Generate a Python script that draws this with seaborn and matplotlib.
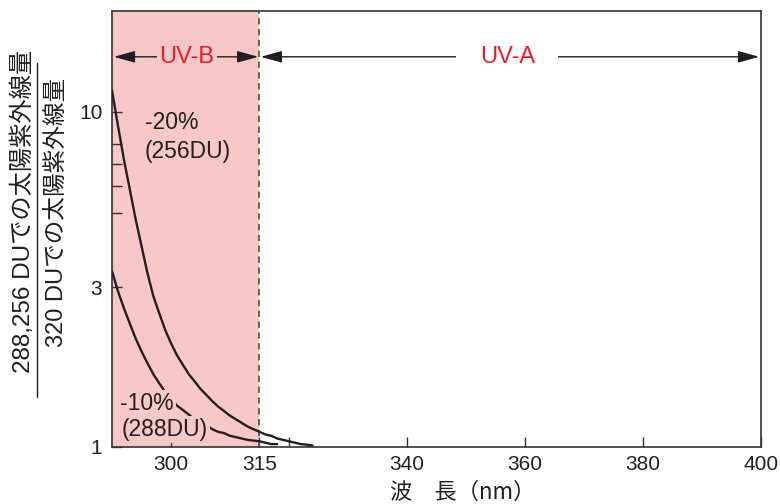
import numpy as np
import pandas as pd
import matplotlib
matplotlib.use("Agg")
import matplotlib.pyplot as plt
from matplotlib.ticker import FixedLocator, NullFormatter
from matplotlib.lines import Line2D
import seaborn as sns

# Ratio of solar UV at reduced ozone to UV at 320 DU
wavelength_256 = [290, 291, 292, 293, 294, 295, 296, 297, 298, 299, 300, 301, 302,
                  303, 304, 305, 306, 307, 308, 309, 310, 311, 312, 313, 314, 315,
                  316, 317, 318, 319, 320, 321, 322, 323, 324]
ratio_256 = [11.6, 9.12, 7.24, 5.89, 4.79, 3.98, 3.31, 2.82, 2.51, 2.24, 2.04, 1.88,
             1.76, 1.65, 1.57, 1.49, 1.43, 1.37, 1.32, 1.28, 1.24, 1.21, 1.18, 1.15,
             1.13, 1.11, 1.09, 1.08, 1.06, 1.05, 1.04, 1.03, 1.02, 1.016, 1.01]

wavelength_288 = [290, 291, 292, 293, 294, 295, 296, 297, 298, 299, 300, 301, 302,
                  303, 304, 305, 306, 307, 308, 309, 310, 311, 312, 313, 314, 315,
                  316, 317, 318]
ratio_288 = [3.35, 2.92, 2.60, 2.34, 2.11, 1.93, 1.78, 1.65, 1.55, 1.46, 1.39, 1.33,
             1.29, 1.25, 1.21, 1.18, 1.16, 1.13, 1.11, 1.10, 1.08, 1.07, 1.06, 1.05,
             1.045, 1.04, 1.03, 1.02, 1.02]

series_names = ["256DU", "288DU"]
x_ticks = [300, 315, 340, 360, 380, 400]
x_minor_ticks = [320]
y_ticks = [1, 3, 10]
y_minor_ticks = [5, 6, 7, 8]
uvb_range = (290, 315)
uva_range = (315, 400)

df = pd.concat([
    pd.DataFrame({"wl": wavelength_256, "ratio": ratio_256, "series": series_names[0]}),
    pd.DataFrame({"wl": wavelength_288, "ratio": ratio_288, "series": series_names[1]}),
], ignore_index=True)

sns.set_theme(style="ticks")
plt.rcParams["font.family"] = ["Liberation Sans", "Noto Sans CJK JP"]

INK = "#231f20"
PINK = "#f8c8c8"
RED = "#ed1c24"

fig = plt.figure(figsize=(7.8, 5.04), dpi=100)
ax = fig.add_axes([112 / 780, 1 - 447 / 504, (761 - 112) / 780, (447 - 11) / 504])

ax.axvspan(*uvb_range, color=PINK, lw=0, zorder=0)
ax.axvline(uvb_range[1], color="#5a5a5a", lw=1.3, ls=(0, (3.5, 2.5)), zorder=1)

sns.lineplot(data=df, x="wl", y="ratio", hue="series", units="series",
             estimator=None, sort=False, palette=[INK, INK], lw=1.7,
             legend=False, ax=ax, zorder=3)

ax.set_yscale("log")
ax.set_xlim(290, 400)
ax.set_ylim(1, 20)

ax.set_xticks(x_ticks)
ax.set_xticklabels([str(t) for t in x_ticks])
ax.xaxis.set_minor_locator(FixedLocator(x_minor_ticks))
ax.set_yticks(y_ticks)
ax.set_yticklabels([str(t) for t in y_ticks])
ax.yaxis.set_minor_locator(FixedLocator(y_minor_ticks))
ax.yaxis.set_minor_formatter(NullFormatter())
ax.xaxis.set_minor_formatter(NullFormatter())
ax.tick_params(which="both", direction="in", length=7, width=1, color="#333333",
               labelsize=15, labelcolor=INK)
ax.tick_params(axis="x", which="both", pad=6)
ax.tick_params(axis="y", which="both", pad=7)

for s in ax.spines.values():
    s.set_visible(True)
    s.set_color("#333333")
    s.set_linewidth(1.2)

ax.set_xlabel("")
ax.set_ylabel("")

# Band arrows across the top
arrow_y = 14.6
arrow_kw = dict(arrowstyle="<|-|>,head_length=0.65,head_width=0.18", color=INK,
                lw=1.0, mutation_scale=20, shrinkA=0, shrinkB=0)
ax.annotate("", xy=(uvb_range[0] + 0.3, arrow_y), xytext=(uvb_range[1] - 0.2, arrow_y),
            arrowprops=arrow_kw, zorder=4)
ax.annotate("", xy=(uva_range[0] + 0.2, arrow_y), xytext=(uva_range[1] - 0.3, arrow_y),
            arrowprops=arrow_kw, zorder=4)
ax.text(302.7, arrow_y, "UV-B", color=RED, fontsize=17, ha="center", va="center",
        zorder=5, bbox=dict(facecolor=PINK, edgecolor="none", pad=2))
ax.text(357.0, arrow_y, "UV-A", color=RED, fontsize=17, ha="center", va="center",
        zorder=5, bbox=dict(facecolor="white", edgecolor="none", pad=17))

# Curve labels
ax.text(295.6, 9.3, "-20%", fontsize=16.5, color=INK, ha="left", va="center", zorder=5)
ax.text(295.6, 7.6, "(256DU)", fontsize=16.5, color=INK, ha="left", va="center", zorder=5)
ax.text(291.4, 1.345, "-10%", fontsize=16.5, color=INK, ha="left", va="center", zorder=5,
        bbox=dict(facecolor=PINK, edgecolor="none", pad=1.5))
ax.text(291.6, 1.125, "(288DU)", fontsize=16.5, color=INK, ha="left", va="center", zorder=5,
        bbox=dict(facecolor=PINK, edgecolor="none", pad=1.5))

# Axis titles
fig.text(463 / 780, 1 - 492 / 504, "波\u3000長（nm）", fontsize=16, color=INK,
         ha="center", va="center", family=["Noto Sans CJK JP"])
fig.text(23 / 780, 1 - 211 / 504, "288,256 DUでの太陽紫外線量", rotation=90,
         fontsize=17.5, color=INK, ha="center", va="center")
fig.text(57 / 780, 1 - 212 / 504, "320 DUでの太陽紫外線量", rotation=90,
         fontsize=17, color=INK, ha="center", va="center")
fig.add_artist(Line2D([37 / 780, 37 / 780], [1 - 397 / 504, 1 - 63 / 504],
                      transform=fig.transFigure, color=INK, lw=1.0))

fig.savefig("out.png", dpi=100)
